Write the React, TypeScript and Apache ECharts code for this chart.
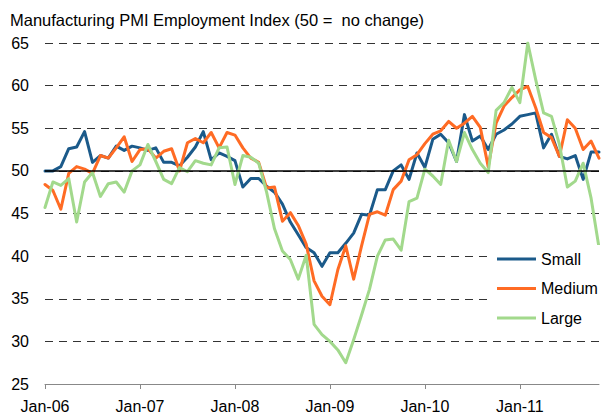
import React, { useEffect, useRef } from "react";
import * as echarts from "echarts";

const title = "Manufacturing PMI Employment Index (50 =  no change)";
const monthNames = ["Jan", "Feb", "Mar", "Apr", "May", "Jun", "Jul", "Aug", "Sep", "Oct", "Nov", "Dec"];
const years = ["06", "07", "08", "09", "10", "11"];
const categories: string[] = years.flatMap((y) => monthNames.map((m) => `${m}-${y}`)).slice(0, 71);

const small = [
  50.0, 50.0, 50.5, 52.6, 52.8, 54.6, 51.0, 51.8, 51.5, 52.9, 52.4, 52.9,
  52.7, 52.4, 52.7, 51.0, 51.0, 50.6, 51.6, 52.8, 54.6, 51.3, 52.1, 51.7,
  51.2, 48.1, 49.1, 49.1, 48.2, 47.5, 46.1, 44.0, 42.5, 41.0, 40.4, 38.8,
  40.4, 40.4, 41.5, 42.7, 44.9, 44.8, 47.8, 47.8, 50.0, 50.7, 49.0, 52.1,
  50.4, 53.7, 54.3, 53.3, 51.1, 56.6, 53.5, 54.1, 52.5, 54.3, 54.8, 55.5,
  56.4, 56.6, 56.8, 52.7, 54.3, 51.7, 51.4, 51.8, 49.0, 52.2, 52.2,
];
const medium = [
  48.4, 47.7, 45.5, 49.7, 50.5, 50.2, 49.7, 51.8, 51.5, 52.7, 54.0, 51.1,
  52.5, 52.6, 51.5, 52.3, 52.6, 50.0, 53.3, 53.8, 53.3, 54.5, 52.7, 54.5,
  54.2, 52.7, 51.5, 51.0, 48.0, 48.1, 44.1, 45.1, 43.6, 41.4, 37.1, 35.3,
  34.3, 38.4, 41.2, 37.3, 41.2, 44.9, 45.2, 44.8, 47.8, 48.8, 51.3, 51.9,
  53.2, 54.3, 54.7, 55.8, 55.0, 55.6, 56.4, 55.1, 50.5, 55.6, 57.6, 58.6,
  59.5, 59.9, 57.4, 54.5, 53.9, 51.7, 56.0, 55.0, 52.5, 53.5, 51.5,
];
const large = [
  45.7, 48.7, 48.3, 49.1, 44.0, 48.7, 49.8, 47.0, 48.5, 48.7, 47.5, 50.0,
  50.7, 53.1, 51.1, 49.0, 48.5, 50.4, 49.9, 51.2, 50.9, 50.7, 52.7, 52.8,
  48.4, 51.8, 51.6, 50.9, 47.5, 43.2, 40.6, 39.6, 37.3, 40.1, 32.0, 30.8,
  30.0, 29.0, 27.5, 30.2, 33.1, 36.1, 40.0, 41.9, 42.0, 40.7, 46.4, 46.8,
  50.2, 49.4, 48.4, 53.6, 51.1, 54.5, 52.5, 50.9, 49.8, 57.1, 58.0, 59.8,
  58.0, 65.0, 60.7, 56.8, 56.4, 53.1, 48.1, 48.8, 50.9, 46.8, 41.0,
];
const referenceLevel = 50;

const FONT = "'Liberation Sans', Arial, sans-serif";

export default function App() {
  const ref = useRef<HTMLDivElement>(null);
  useEffect(() => {
    if (!ref.current) return;
    const chart = echarts.init(ref.current, null, { renderer: "svg" });
    const lineSeries = (name: string, data: number[], color: string) => ({
      name,
      type: "line",
      data,
      symbol: "none",
      smooth: false,
      lineStyle: { color, width: 3, join: "round", cap: "round" },
      itemStyle: { color },
      z: 3,
    });
    chart.setOption({
      animation: false,
      backgroundColor: "#fff",
      textStyle: { fontFamily: FONT },
      title: {
        text: title,
        left: 10,
        top: 11,
        padding: 0,
        textStyle: { fontFamily: FONT, fontSize: 16.5, fontWeight: "normal", color: "#000" },
      },
      grid: { left: 45, right: 4, top: 43, bottom: 33, containLabel: false },
      legend: {
        data: ["Small", "Medium", "Large"],
        orient: "vertical",
        left: 492,
        top: 245,
        padding: [5, 5, 5, 5],
        backgroundColor: "#fff",
        icon: "rect",
        itemWidth: 39,
        itemHeight: 3,
        itemGap: 11.5,
        textStyle: { fontFamily: FONT, fontSize: 16, color: "#000", lineHeight: 18 },
      },
      xAxis: {
        type: "category",
        data: categories,
        boundaryGap: false,
        axisLine: { show: true, lineStyle: { color: "#888", width: 1 } },
        axisTick: { show: true, interval: 11, length: 5, lineStyle: { color: "#888" } },
        axisLabel: { interval: 11, fontFamily: FONT, fontSize: 16, color: "#000", margin: 14 },
        splitLine: { show: false },
      },
      yAxis: {
        type: "value",
        min: 25,
        max: 65,
        interval: 5,
        axisLine: { show: false },
        axisTick: { show: false },
        axisLabel: { fontFamily: FONT, fontSize: 16, color: "#000", margin: 16 },
        splitLine: { show: true, lineStyle: { color: "#333", type: [8, 6], width: 1 } },
      },
      series: [
        {
          name: "ref",
          type: "line",
          data: [],
          symbol: "none",
          z: 2,
          markLine: {
            silent: true,
            symbol: ["none", "none"],
            label: { show: false },
            lineStyle: { color: "#000", type: "solid", width: 1.5 },
            data: [{ yAxis: referenceLevel }],
          },
        },
        lineSeries("Small", small, "#1B5A8A"),
        lineSeries("Medium", medium, "#FF6B24"),
        lineSeries("Large", large, "#A2D98C"),
      ],
    });
    return () => chart.dispose();
  }, []);
  return <div ref={ref} style={{ width: 603, height: 417, position: "absolute", left: 0, top: 0 }} />;
}
